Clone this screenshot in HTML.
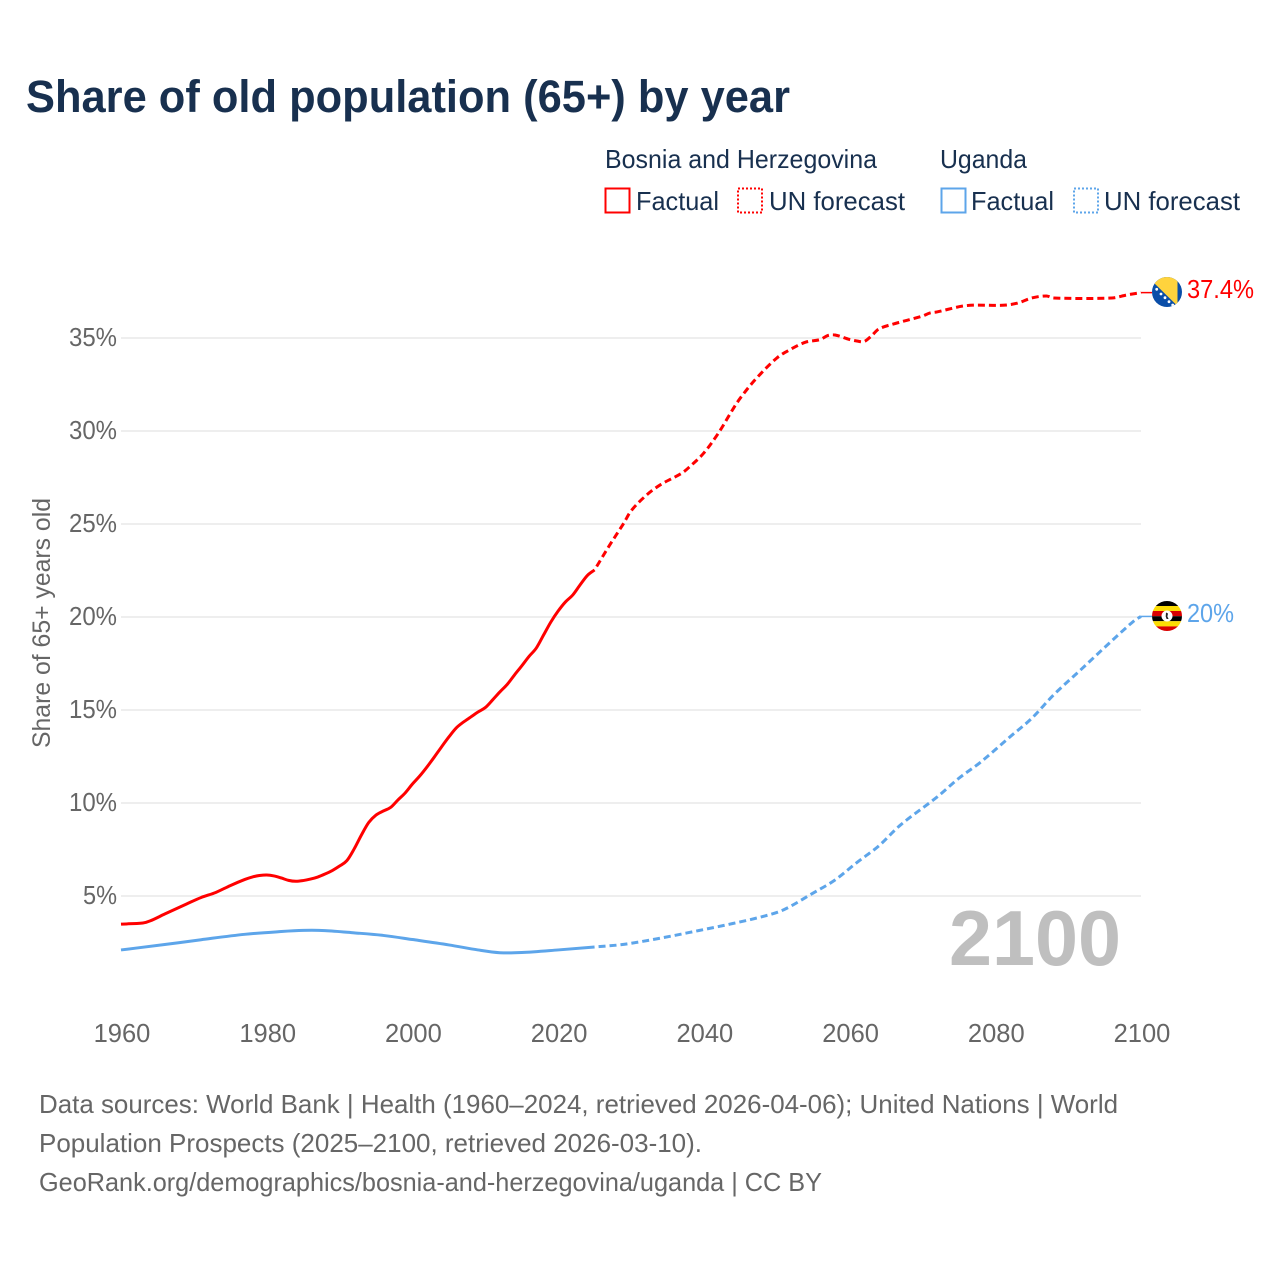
<!DOCTYPE html>
<html lang="en">
<head>
<meta charset="utf-8">
<title>Share of old population (65+) by year</title>
<style>
html,body{margin:0;padding:0;background:#fff;}
svg{display:block;font-family:"Liberation Sans",sans-serif;}
</style>
</head>
<body>
<svg id="chart" xmlns="http://www.w3.org/2000/svg" width="1280" height="1280" viewBox="0 0 1280 1280">
  <defs>
    <clipPath id="flag-clip-ba"><circle cx="1167" cy="292" r="15"/></clipPath>
    <clipPath id="flag-clip-ug"><circle cx="1167" cy="616" r="15"/></clipPath>
  </defs>
  <rect width="1280" height="1280" fill="#fff"/>
  <text x="26" y="112" font-size="45" font-weight="700" fill="#18304f" textLength="764" lengthAdjust="spacingAndGlyphs">Share of old population (65+) by year</text>

  <g font-size="26" fill="#18304f">
    <text x="605" y="168" textLength="272" lengthAdjust="spacingAndGlyphs">Bosnia and Herzegovina</text>
    <text x="940" y="168" textLength="87" lengthAdjust="spacingAndGlyphs">Uganda</text>
    <rect x="605.5" y="188.5" width="24" height="24" fill="none" stroke="#ff0000" stroke-width="2"/>
    <text x="636" y="210" textLength="83" lengthAdjust="spacingAndGlyphs">Factual</text>
    <rect x="738" y="188.5" width="24" height="24" fill="none" stroke="#ff0000" stroke-width="2" stroke-dasharray="2 2"/>
    <text x="769" y="210" textLength="136" lengthAdjust="spacingAndGlyphs">UN forecast</text>
    <rect x="941.5" y="188.5" width="24" height="24" fill="none" stroke="#5da5ea" stroke-width="2"/>
    <text x="971" y="210" textLength="83" lengthAdjust="spacingAndGlyphs">Factual</text>
    <rect x="1074" y="188.5" width="24" height="24" fill="none" stroke="#5da5ea" stroke-width="2" stroke-dasharray="2 2"/>
    <text x="1104" y="210" textLength="136" lengthAdjust="spacingAndGlyphs">UN forecast</text>
  </g>

  <g id="grid"></g>
  <g id="y-axis" font-size="25.5" fill="#666"></g>
  <g id="x-axis" font-size="25.5" fill="#666"></g>
  <text transform="translate(50,748) rotate(-90)" font-size="25" fill="#666" textLength="250" lengthAdjust="spacingAndGlyphs">Share of 65+ years old</text>
  <text x="949" y="965" font-size="78" font-weight="700" fill="#bfbfbf" textLength="172" lengthAdjust="spacingAndGlyphs">2100</text>

  <g id="series"></g>

  <g clip-path="url(#flag-clip-ba)">
    <rect x="1150" y="275" width="34" height="34" fill="#0a4ea8"/>
    <polygon points="1150,278 1150,279 1177.5,306 1177.5,275 1150,275" fill="#ffd33d"/>
    <g fill="#fff">
      <circle cx="1156.7" cy="289.3" r="1.4"/><circle cx="1161" cy="294" r="1.4"/><circle cx="1165" cy="297.7" r="1.4"/><circle cx="1169" cy="301.7" r="1.4"/><circle cx="1172.7" cy="305" r="1.4"/>
    </g>
  </g>
  <g clip-path="url(#flag-clip-ug)">
    <rect x="1150" y="600" width="34" height="6" fill="#000"/>
    <rect x="1150" y="606" width="34" height="5" fill="#fcdc04"/>
    <rect x="1150" y="611" width="34" height="5.2" fill="#d90000"/>
    <rect x="1150" y="616.2" width="34" height="5" fill="#000"/>
    <rect x="1150" y="621.2" width="34" height="5.2" fill="#fcdc04"/>
    <rect x="1150" y="626.4" width="34" height="6" fill="#d90000"/>
    <circle cx="1167" cy="616" r="5.5" fill="#fff"/>
    <path d="M1166 612.5l2 1-.6 3 1.2 2.5h-2l-.9-2.5z" fill="#222"/>
  </g>
  <text x="1187" y="298" font-size="25.5" fill="#ff0000" textLength="67" lengthAdjust="spacingAndGlyphs">37.4%</text>
  <text x="1187" y="622" font-size="25.5" fill="#5da5ea" textLength="47" lengthAdjust="spacingAndGlyphs">20%</text>

  <g font-size="26" fill="#666">
    <text x="39" y="1113" textLength="1079" lengthAdjust="spacingAndGlyphs">Data sources: World Bank | Health (1960–2024, retrieved 2026-04-06); United Nations | World</text>
    <text x="39" y="1152" textLength="663" lengthAdjust="spacingAndGlyphs">Population Prospects (2025–2100, retrieved 2026-03-10).</text>
    <text x="39" y="1191" textLength="783" lengthAdjust="spacingAndGlyphs">GeoRank.org/demographics/bosnia-and-herzegovina/uganda | CC BY</text>
  </g>
</svg>
<script>
const xTickYears = [1960, 1980, 2000, 2020, 2040, 2060, 2080, 2100];
const yTickValues = [5, 10, 15, 20, 25, 30, 35];

const bosniaFactualYears = [1960,1963,1964,1966,1969,1971,1973,1975,1977,1978,1979,1980,1981,1982,1983,1984,1985,1986,1987,1988,1989,1990,1991,1992,1993,1994,1995,1996,1997,1998,1999,2000,2001,2002,2003,2004,2005,2006,2007,2008,2009,2010,2011,2012,2013,2014,2015,2016,2017,2018,2019,2020,2021,2022,2023,2024,2025];
const bosniaFactualValues = [3.49,3.55,3.66,4.03,4.57,4.92,5.19,5.56,5.89,6.02,6.10,6.13,6.08,5.97,5.84,5.79,5.83,5.91,6.02,6.18,6.37,6.61,6.90,7.53,8.28,8.95,9.35,9.57,9.76,10.16,10.54,11.02,11.45,11.94,12.47,13.02,13.55,14.03,14.35,14.62,14.89,15.13,15.54,15.97,16.37,16.88,17.37,17.88,18.33,19.03,19.73,20.32,20.81,21.18,21.72,22.23,22.53];

const bosniaForecastYears = [2025,2027,2029,2030,2032,2034,2037,2038,2040,2042,2044,2045,2047,2050,2052,2054,2056,2057,2058,2060,2061,2062,2063,2064,2066,2070,2071,2072,2076,2081,2083,2085,2087,2088,2096,2098,2100];
const bosniaForecastValues = [22.53,23.82,25.04,25.70,26.51,27.10,27.74,28.06,28.82,29.89,31.18,31.77,32.74,33.92,34.41,34.78,34.92,35.13,35.16,34.92,34.84,34.81,35.11,35.48,35.75,36.18,36.34,36.40,36.74,36.76,36.87,37.15,37.26,37.15,37.15,37.31,37.44];

const ugandaFactualYears = [1960,1966,1971,1977,1982,1985,1988,1992,1996,2000,2005,2009,2012,2015,2020,2025];
const ugandaFactualValues = [2.10,2.39,2.65,2.94,3.09,3.15,3.14,3.02,2.88,2.66,2.37,2.10,1.95,1.96,2.10,2.26];

const ugandaForecastYears = [2025,2029,2034,2038,2043,2048,2051,2055,2058,2061,2064,2067,2072,2075,2078,2082,2085,2088,2092,2095,2099,2100];
const ugandaForecastValues = [2.26,2.40,2.73,3.04,3.44,3.89,4.27,5.16,5.86,6.80,7.69,8.82,10.32,11.33,12.20,13.55,14.55,15.81,17.26,18.36,19.78,20.03];

const NS = 'http://www.w3.org/2000/svg';
function xScale(year) { return 121 + (year - 1960) * (1020 / 140); }
function yScale(value) { return 989 - value * 18.6; }

function curvePath(years, values) {
  const pts = years.map(function (yr, i) { return [xScale(yr), yScale(values[i])]; });
  const n = pts.length;
  const slope = pts.map(function (p, i) {
    const a = pts[Math.max(0, i - 1)];
    const b = pts[Math.min(n - 1, i + 1)];
    return (b[1] - a[1]) / (b[0] - a[0]);
  });
  let d = 'M' + pts[0][0].toFixed(2) + ' ' + pts[0][1].toFixed(2);
  for (let i = 1; i < n; i++) {
    const dx = (pts[i][0] - pts[i - 1][0]) / 3;
    d += 'C' + (pts[i - 1][0] + dx).toFixed(2) + ' ' + (pts[i - 1][1] + slope[i - 1] * dx).toFixed(2) +
         ' ' + (pts[i][0] - dx).toFixed(2) + ' ' + (pts[i][1] - slope[i] * dx).toFixed(2) +
         ' ' + pts[i][0].toFixed(2) + ' ' + pts[i][1].toFixed(2);
  }
  return d;
}

const gridGroup = document.getElementById('grid');
const yGroup = document.getElementById('y-axis');
const xGroup = document.getElementById('x-axis');
const seriesGroup = document.getElementById('series');

yTickValues.forEach(function (v) {
  const line = document.createElementNS(NS, 'line');
  
  
  line.setAttribute('x1', xScale(1960));
  line.setAttribute('x2', xScale(2100));
  line.setAttribute('y1', yScale(v));
  line.setAttribute('y2', yScale(v));
  line.setAttribute('stroke', '#eeeeee');
  line.setAttribute('stroke-width', '2');
  gridGroup.appendChild(line);

  const label = document.createElementNS(NS, 'text');
  const str = v + '%';
  
  
  label.setAttribute('x', 117);
  label.setAttribute('y', yScale(v) + 8);
  label.setAttribute('text-anchor', 'end');
  label.setAttribute('textLength', (str.length - 1) * 14 + 20);
  label.setAttribute('lengthAdjust', 'spacingAndGlyphs');
  label.textContent = str;
  yGroup.appendChild(label);
});

xTickYears.forEach(function (yr) {
  const label = document.createElementNS(NS, 'text');
  
  
  label.setAttribute('x', xScale(yr) + 1);
  label.setAttribute('y', 1042);
  label.setAttribute('text-anchor', 'middle');
  label.textContent = String(yr);
  xGroup.appendChild(label);
});

function addLine(years, values, color, dashed, name) {
  const path = document.createElementNS(NS, 'path');
  
  
  path.setAttribute('d', curvePath(years, values));
  path.setAttribute('fill', 'none');
  path.setAttribute('stroke', color);
  path.setAttribute('stroke-width', '3');
  path.setAttribute('stroke-linejoin', 'round');
  if (dashed) {
    path.setAttribute('stroke-dasharray', '7 4');
    path.setAttribute('stroke-dashoffset', '-4');
  }
  seriesGroup.appendChild(path);
}

function addConnector(value, color, name) {
  const line = document.createElementNS(NS, 'line');
  
  
  line.setAttribute('x1', xScale(2100));
  line.setAttribute('x2', 1152);
  line.setAttribute('y1', yScale(value));
  line.setAttribute('y2', yScale(value));
  line.setAttribute('stroke', color);
  line.setAttribute('stroke-width', '1.5');
  seriesGroup.appendChild(line);
}

addLine(bosniaFactualYears, bosniaFactualValues, '#ff0000', false, 'line-bosnia-factual');
addLine(bosniaForecastYears, bosniaForecastValues, '#ff0000', true, 'line-bosnia-forecast');
addLine(ugandaFactualYears, ugandaFactualValues, '#5da5ea', false, 'line-uganda-factual');
addLine(ugandaForecastYears, ugandaForecastValues, '#5da5ea', true, 'line-uganda-forecast');
addConnector(bosniaForecastValues[bosniaForecastValues.length - 1], '#ff0000', 'label-connector-bosnia');
addConnector(ugandaForecastValues[ugandaForecastValues.length - 1], '#5da5ea', 'label-connector-uganda');
</script>
</body>
</html>
